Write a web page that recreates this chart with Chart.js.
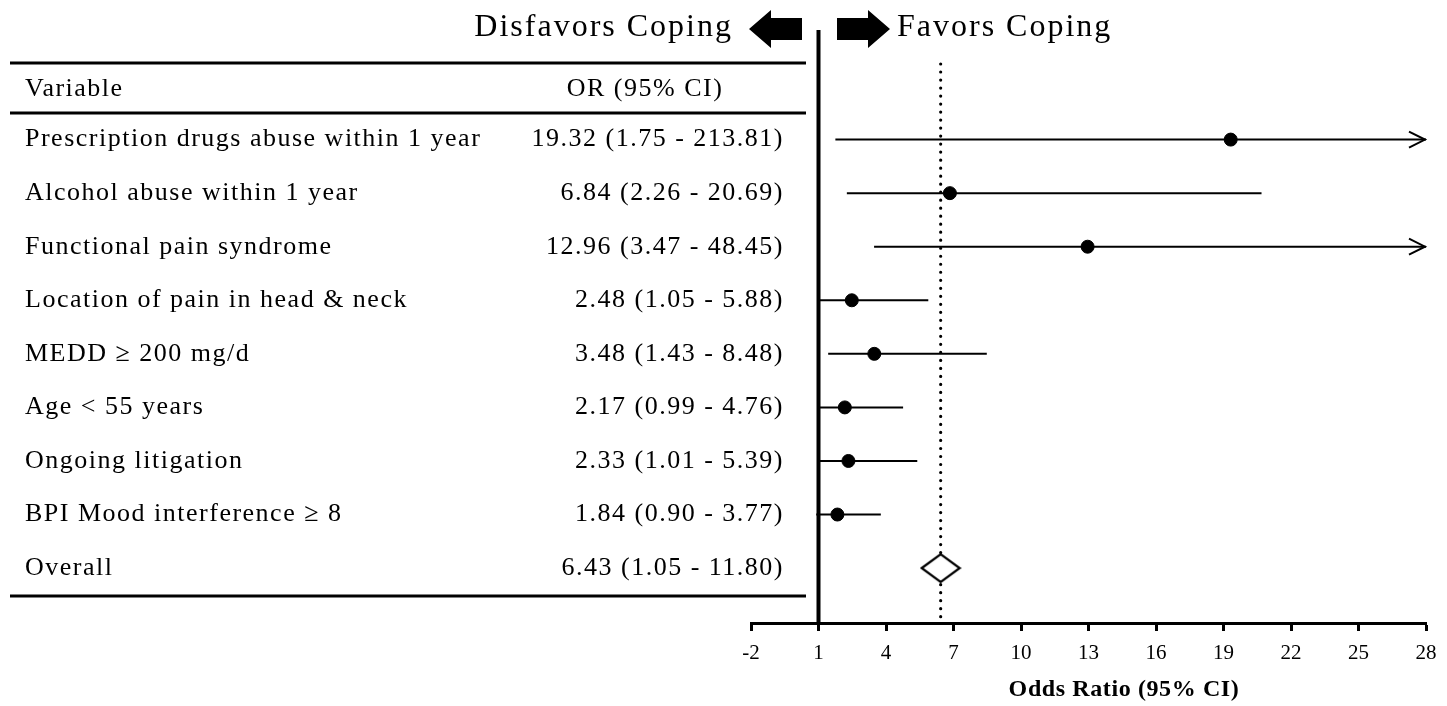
<!DOCTYPE html>
<html>
<head>
<meta charset="utf-8">
<script src="https://cdn.jsdelivr.net/npm/chart.js@4"></script>
<style>
  html, body { margin: 0; padding: 0; background: #fff; }
  canvas { display: block; }
</style>
</head>
<body>
<canvas id="forest" width="1447" height="706"></canvas>
<script>
// Data
const variables = [
    'Prescription drugs abuse within 1 year',
    'Alcohol abuse within 1 year',
    'Functional pain syndrome',
    'Location of pain in head & neck',
    'MEDD \u2265 200 mg/d',
    'Age < 55 years',
    'Ongoing litigation',
    'BPI Mood interference \u2265 8',
    'Overall'
];
const oddsRatios = [19.32, 6.84, 12.96, 2.48, 3.48, 2.17, 2.33, 1.84, 6.43];
const ciLower = [1.75, 2.26, 3.47, 1.05, 1.43, 0.99, 1.01, 0.90, 1.05];
const ciUpper = [213.81, 20.69, 48.45, 5.88, 8.48, 4.76, 5.39, 3.77, 11.80];
const xTicks = [-2, 1, 4, 7, 10, 13, 16, 19, 22, 25, 28];
const nullValue = 1;

const X_MIN = -2, X_MAX = 28;
const serif = '"Liberation Serif", "DejaVu Serif", serif';
const tableFont = '26px ' + serif;

const overallIdx = variables.length - 1;
const studyRows = variables.slice(0, overallIdx).map((v, i) => i);

// CI whiskers, one small dataset per row, clipped at the axis end
const ciSets = studyRows.map(i => ({
    type: 'line',
    data: [{ x: ciLower[i], y: i }, { x: Math.min(ciUpper[i], X_MAX), y: i }],
    borderColor: '#000',
    borderWidth: 2,
    pointRadius: 0,
    fill: false
}));

// diamond marker for the pooled estimate
const diamond = document.createElement('canvas');
diamond.width = 42; diamond.height = 32;
(function () {
    const c = diamond.getContext('2d');
    c.beginPath();
    c.moveTo(2, 16); c.lineTo(21, 2); c.lineTo(40, 16); c.lineTo(21, 30); c.closePath();
    c.fillStyle = '#fff'; c.fill();
    c.lineWidth = 2.2; c.strokeStyle = '#000'; c.stroke();
})();

// reference lines, header, table text and arrowheads
const decorations = {
    id: 'decorations',
    beforeDatasetsDraw(chart) {
        const ctx = chart.ctx, xs = chart.scales.x, area = chart.chartArea;
        ctx.save();
        // line of no effect
        const x1 = xs.getPixelForValue(nullValue);
        ctx.strokeStyle = '#000';
        ctx.lineWidth = 4;
        ctx.beginPath(); ctx.moveTo(x1, 30); ctx.lineTo(x1, area.bottom); ctx.stroke();
        // dotted overall line
        const xo = xs.getPixelForValue(oddsRatios[overallIdx]);
        ctx.lineWidth = 3.2;
        ctx.lineCap = 'round';
        ctx.setLineDash([0.01, 8]);
        ctx.beginPath(); ctx.moveTo(xo, 64); ctx.lineTo(xo, area.bottom - 2); ctx.stroke();
        ctx.restore();
    },
    afterDatasetsDraw(chart) {
        const ctx = chart.ctx, xs = chart.scales.x, ys = chart.scales.y;
        ctx.save();
        ctx.strokeStyle = '#000';
        ctx.lineWidth = 2;
        // open arrowheads on truncated intervals
        studyRows.forEach(i => {
            if (ciUpper[i] > X_MAX) {
                const tx = xs.getPixelForValue(X_MAX) - 1, ty = ys.getPixelForValue(i);
                ctx.beginPath();
                ctx.moveTo(tx - 16, ty - 8); ctx.lineTo(tx, ty); ctx.lineTo(tx - 16, ty + 8);
                ctx.stroke();
            }
        });

        // table rules
        ctx.lineWidth = 3;
        [63, 113, 596].forEach(y => {
            ctx.beginPath(); ctx.moveTo(10, y); ctx.lineTo(806, y); ctx.stroke();
        });

        // table text
        ctx.fillStyle = '#000';
        ctx.font = tableFont;
        ctx.letterSpacing = '1.5px';
        ctx.textBaseline = 'middle';
        ctx.textAlign = 'left';
        ctx.fillText('Variable', 25, 89);
        ctx.textAlign = 'center';
        ctx.fillText('OR (95% CI)', 645, 89);
        variables.forEach((v, i) => {
            const y = ys.getPixelForValue(i);
            ctx.textAlign = 'left';
            ctx.fillText(v, 25, y);
            ctx.textAlign = 'right';
            ctx.fillText(oddsRatios[i].toFixed(2) + ' (' + ciLower[i].toFixed(2) + ' - ' +
                ciUpper[i].toFixed(2) + ')', 784, y);
        });

        // header with block arrows
        ctx.font = '32px ' + serif;
        ctx.letterSpacing = '2px';
        ctx.textAlign = 'right';
        ctx.fillText('Disfavors Coping', 733, 28);
        ctx.textAlign = 'left';
        ctx.fillText('Favors Coping', 897, 28);
        const blockArrow = (tip, dir) => {
            ctx.beginPath();
            ctx.moveTo(tip, 29);
            ctx.lineTo(tip - dir * 22, 10);
            ctx.lineTo(tip - dir * 22, 18);
            ctx.lineTo(tip - dir * 53, 18);
            ctx.lineTo(tip - dir * 53, 40);
            ctx.lineTo(tip - dir * 22, 40);
            ctx.lineTo(tip - dir * 22, 48);
            ctx.closePath();
            ctx.fill();
        };
        blockArrow(749, -1);
        blockArrow(890, 1);

        // axis title
        ctx.font = 'bold 24px ' + serif;
        ctx.letterSpacing = '0.6px';
        ctx.textAlign = 'center';
        ctx.fillText('Odds Ratio (95% CI)', 1124, 690);
        ctx.restore();
    }
};

new Chart(document.getElementById('forest'), {
    type: 'scatter',
    data: {
        datasets: [
            ...ciSets,
            {
                data: studyRows.map(i => ({ x: oddsRatios[i], y: i })),
                backgroundColor: '#000',
                borderColor: '#000',
                pointRadius: 6.5,
                pointHoverRadius: 6.5
            },
            {
                data: [{ x: oddsRatios[overallIdx], y: overallIdx }],
                pointStyle: diamond,
                pointRadius: 20
            }
        ]
    },
    options: {
        responsive: false,
        animation: false,
        events: [],
        layout: { padding: { left: 751, right: 19, top: 0, bottom: 0 } },
        plugins: { legend: { display: false }, tooltip: { enabled: false } },
        scales: {
            x: {
                type: 'linear',
                min: X_MIN,
                max: X_MAX,
                afterBuildTicks: s => { s.ticks = xTicks.map(v => ({ value: v })); },
                afterFit: s => { s.height = 83; },
                border: { display: true, color: '#000', width: 3 },
                grid: { drawOnChartArea: false, drawTicks: true, tickLength: 8, tickWidth: 3, tickColor: '#000' },
                ticks: { color: '#000', font: { family: serif, size: 21 }, padding: 10, maxRotation: 0 }
            },
            y: {
                type: 'linear',
                display: false,
                reverse: true,
                min: -2.214,
                max: 9.025
            }
        }
    },
    plugins: [decorations]
});
</script>
</body>
</html>
